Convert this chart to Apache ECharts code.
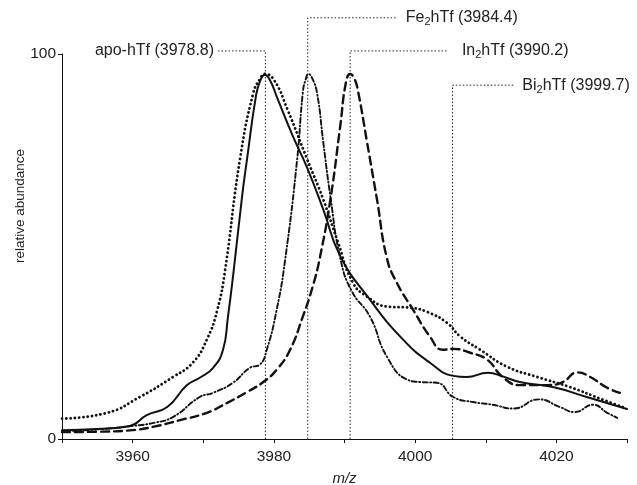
<!DOCTYPE html>
<html><head><meta charset="utf-8">
<script src="https://cdn.jsdelivr.net/npm/echarts@6/dist/echarts.min.js"></script>
<style>html,body{margin:0;padding:0;background:#fff}#c{width:637px;height:485px}</style>
</head><body><div id="c"></div>
<script>
// ---- data (m/z, relative abundance) ----
const apoHTf = [[3950,2.3],[3955,2.6],[3959.6,3.4],[3962,6.2],[3964.9,8.3],[3967.7,14],[3969.5,15.9],[3971.4,18.5],[3972.8,23.2],[3973.5,31.8],[3974.2,42],[3975.5,63],[3976.2,72.7],[3977.5,89.5],[3978.1,93.2],[3978.7,94.6],[3979.4,93.4],[3980.5,88.5],[3982.7,78.6],[3984.7,70.5],[3987,59.6],[3989.4,47.5],[3993.6,36.2],[3998.3,25.8],[4002.1,19.8],[4005.4,16.4],[4007.3,16.1],[4010.3,17.2],[4012.5,16.2],[4014.8,14.8],[4019.5,13.5],[4024.3,10.9],[4030,7.8]];
const bi2HTf = [[3950,5.3],[3956.4,6.8],[3961,10.9],[3965.7,16.1],[3968.5,19.8],[3970.5,25.8],[3972,33.6],[3973.1,44],[3975.2,72.7],[3977.1,90],[3978,93.4],[3978.7,94.8],[3980,93.3],[3981.9,85.7],[3984.7,72.7],[3987,62.2],[3989,51.5],[3991.2,40.6],[3993.2,37],[3996,34.4],[3999.3,34.1],[4001.7,33],[4004.5,30.2],[4006.4,26.6],[4009.2,23.2],[4013,18.8],[4017.3,16.1],[4021.9,13.5],[4026.6,10.2],[4029.4,8.3]];
const fe2HTf = [[3950,2],[3955,2.5],[3960,3.4],[3963,4.2],[3965.7,5.7],[3969.5,10.9],[3971.4,12],[3974.2,14.6],[3976.6,18.5],[3978,19.3],[3979,23.2],[3980.4,33.6],[3981.6,46.6],[3983.3,72.7],[3984.1,90],[3984.5,93.4],[3984.9,94.8],[3985.4,93.8],[3986.1,90],[3987,77],[3988,63],[3989.4,47],[3991,38.5],[3993.6,31.8],[3996,21.4],[3998.9,15.4],[4000.7,14.8],[4003.1,14.6],[4005.4,10.9],[4008.2,9.6],[4011,8.9],[4013.9,7.9],[4017.5,10.3],[4020.5,8.3],[4022.6,7],[4025.2,8.9],[4027.2,6.8],[4028.6,5.5]];
const in2HTf = [[3950,1.8],[3955,1.9],[3960,2.3],[3963,3.2],[3966.7,4.9],[3970.5,6.8],[3973.4,9.4],[3976.2,12.2],[3978.5,14.8],[3980.4,18],[3982.3,23.2],[3984.1,31.8],[3985.5,39.6],[3986.5,47],[3988,62.2],[3989.4,81.3],[3990.2,92.6],[3990.8,94.8],[3991.4,93.6],[3991.9,90.5],[3993.2,77],[3994.6,62.2],[3996,47],[3997.4,40.6],[3999.7,33.6],[4002.1,26.6],[4003.9,23.2],[4005.4,23.4],[4007.8,22.4],[4010.2,20.6],[4012.4,16.1],[4014.8,14],[4018.7,14],[4020.9,14.8],[4023,17.3],[4024.8,16.1],[4027.2,13.3],[4029,12]];

// peak marker positions (m/z) and their label texts
const markerMz = [3978.8, 3984.8, 3990.8, 4005.3];
const markerNames = [['apo-hTf', ''], ['Fe', '2'], ['In', '2'], ['Bi', '2']];
const markerValues = ['3978.8', '3984.4', '3990.2', '3999.7'];

// tick labels
const xTickLabels = [3960, 3980, 4000, 4020];
const yTickLabels = [0, 100];
const xRange = [3950, 4030];
const yRange = [0, 100];

// ---- layout of the leader lines (data units) ----
const leaderTop = [100.8, 109.4, 100.8, 91.9];
const leaderEnd = [3972.1, 3997.4, 4004.5, 4013.9];
const labelSide = ['left', 'right', 'right', 'right'];
const labelGap = [4, 9, 15, 9];

const ink = '#111';
const txt = '#222';
const font = 'Liberation Sans, Arial, Helvetica, sans-serif';

const chart = echarts.init(document.getElementById('c'), null, {renderer: 'canvas'});

function curve(data, type, width) {
  return {
    type: 'line', data: data, showSymbol: false, symbol: 'none', smooth: 0.5,
    silent: true, z: 3,
    lineStyle: {color: ink, width: width, type: type, cap: 'round', join: 'round'}
  };
}

const series = [
  curve(apoHTf, 'solid', 2),
  curve(bi2HTf, [0.1, 4.2], 2.8),
  curve(fe2HTf, [5, 2.5, 1, 2.5], 1.9),
  curve(in2HTf, [8, 5], 2.4)
];

markerMz.forEach((m, i) => {
  series.push({
    type: 'line', clip: false, showSymbol: false, symbol: 'none', silent: true, z: 2,
    data: [[m, 0], [m, leaderTop[i]], [leaderEnd[i], leaderTop[i]]],
    lineStyle: {color: txt, width: 1, type: [1.5, 2]}
  });
});

chart.setOption({
  animation: false,
  backgroundColor: '#fff',
  grid: {left: 62, right: 10, top: 54, bottom: 46, outerBoundsMode: 'none'},
  xAxis: {
    type: 'value', min: xRange[0], max: xRange[1], interval: 10,
    name: 'm/z', nameLocation: 'middle', nameGap: 32,
    nameTextStyle: {fontFamily: font, fontSize: 15, fontStyle: 'italic', color: txt},
    axisLine: {show: true, lineStyle: {color: ink, width: 1}},
    axisTick: {show: true, length: 4, lineStyle: {color: ink}},
    splitLine: {show: false},
    axisLabel: {
      fontFamily: font, fontSize: 15.5, color: txt, margin: 10,
      showMinLabel: true, showMaxLabel: true,
      formatter: v => xTickLabels.indexOf(v) >= 0 ? String(v) : ''
    }
  },
  yAxis: {
    type: 'value', min: yRange[0], max: yRange[1], interval: 100,
    axisLine: {show: true, lineStyle: {color: ink, width: 1}},
    axisTick: {show: true, length: 4, lineStyle: {color: ink}},
    splitLine: {show: false},
    axisLabel: {
      fontFamily: font, fontSize: 15.5, color: txt, margin: 6,
      formatter: v => yTickLabels.indexOf(v) >= 0 ? String(v) : ''
    }
  },
  series: series
});

// labels for the leader lines, placed through the chart's own scales
const graphics = [];
markerMz.forEach((m, i) => {
  const p = chart.convertToPixel({xAxisIndex: 0, yAxisIndex: 0}, [leaderEnd[i], leaderTop[i]]);
  const nm = markerNames[i];
  const text = nm[1]
    ? '{a|' + nm[0] + '}{s|' + nm[1] + '}{a|hTf (' + markerValues[i] + ')}'
    : '{a|' + nm[0] + ' (' + markerValues[i] + ')}';
  const left = labelSide[i] === 'left';
  graphics.push({
    type: 'text', silent: true,
    x: left ? p[0] - labelGap[i] : p[0] + labelGap[i], y: p[1],
    style: {
      text: text, fill: txt, align: left ? 'right' : 'left', verticalAlign: 'middle',
      rich: {
        a: {fontFamily: font, fontSize: 16, fill: txt},
        s: {fontFamily: font, fontSize: 11, fill: txt, padding: [9, 0, 0, 0]}
      }
    }
  });
});
graphics.push({
  type: 'text', silent: true, x: 20, y: 206, rotation: Math.PI / 2,
  style: {text: 'relative abundance', fill: txt, font: '13.5px ' + font, align: 'center', verticalAlign: 'middle'}
});
chart.setOption({graphic: graphics});
</script>
</body></html>
